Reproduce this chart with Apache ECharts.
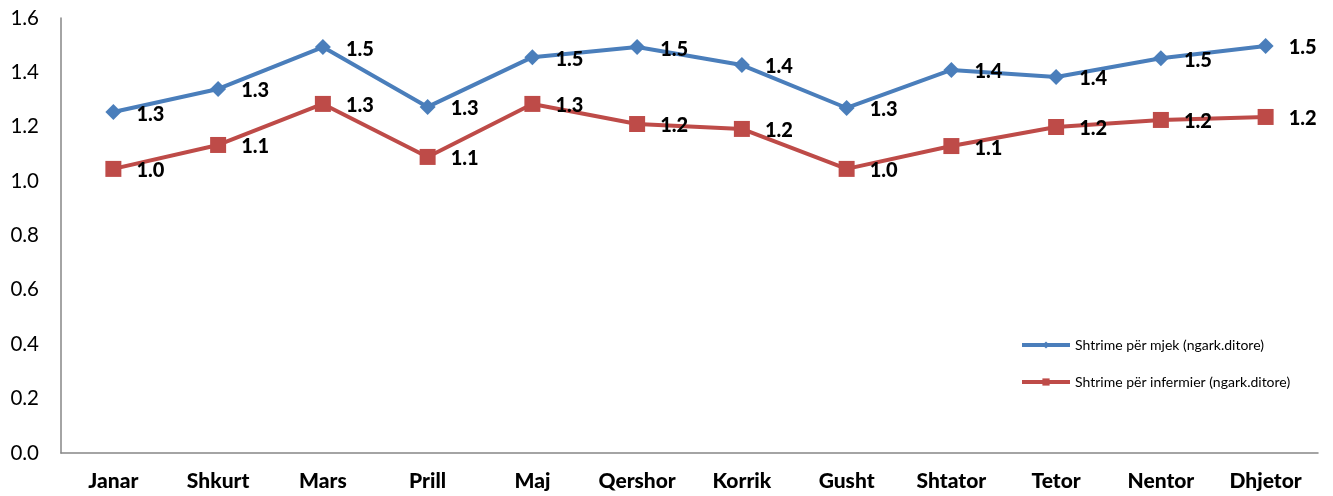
<!DOCTYPE html>
<html>
<head>
<meta charset="utf-8">
<script src="https://cdn.jsdelivr.net/npm/echarts@6/dist/echarts.min.js"></script>
<style>
html,body{margin:0;padding:0;background:#fff;}
#chart{width:1333px;height:496px;}
</style>
</head>
<body>
<div id="chart"></div>
<script>
const categories = ["Janar","Shkurt","Mars","Prill","Maj","Qershor","Korrik","Gusht","Shtator","Tetor","Nentor","Dhjetor"];
const mjekValues = [1.254,1.339,1.493,1.273,1.456,1.493,1.427,1.269,1.409,1.383,1.452,1.497];
const infermierValues = [1.045,1.133,1.284,1.089,1.284,1.210,1.192,1.045,1.129,1.199,1.225,1.236];
const mjekName = "Shtrime për mjek (ngark.ditore)";
const infermierName = "Shtrime për infermier (ngark.ditore)";

const chart = echarts.init(document.getElementById('chart'));
const font = "Lato, 'Open Sans', sans-serif";
const labelCfg = {
  show: true,
  position: 'right',
  distance: 15,
  offset: [0, 2],
  fontFamily: font,
  fontWeight: 900,
  fontSize: 20,
  color: '#000',
  formatter: p => p.value.toFixed(1)
};
chart.setOption({
  animation: false,
  grid: {left: 61, right: 15, top: 18, bottom: 43, containLabel: false},
  legend: {
    orient: 'vertical',
    left: 1015,
    top: 333,
    itemWidth: 48,
    itemHeight: 9,
    itemGap: 23,
    lineStyle: {width: 4},
    textStyle: {fontFamily: font, fontSize: 14, color: '#000'},
    data: [mjekName, infermierName]
  },
  xAxis: {
    type: 'category',
    data: categories,
    boundaryGap: true,
    axisLine: {lineStyle: {color: '#868686', width: 1.5}},
    axisTick: {show: false},
    axisLabel: {fontFamily: font, fontWeight: 900, fontSize: 21, color: '#000', margin: 18}
  },
  yAxis: {
    type: 'value',
    min: 0, max: 1.6, interval: 0.2,
    axisLine: {show: true, lineStyle: {color: '#868686', width: 1.5}},
    axisTick: {show: false},
    splitLine: {show: false},
    axisLabel: {fontFamily: font, fontSize: 20.5, color: '#000', margin: 22, formatter: v => v.toFixed(1)}
  },
  series: [
    {
      name: mjekName,
      type: 'line',
      data: mjekValues,
      symbol: 'diamond',
      symbolSize: 16,
      lineStyle: {color: '#4A7EBB', width: 4},
      itemStyle: {color: '#4A7EBB'},
      label: labelCfg
    },
    {
      name: infermierName,
      type: 'line',
      data: infermierValues,
      symbol: 'rect',
      symbolSize: 16,
      lineStyle: {color: '#BE4B48', width: 4},
      itemStyle: {color: '#BE4B48'},
      label: labelCfg
    }
  ]
});
</script>
</body>
</html>
